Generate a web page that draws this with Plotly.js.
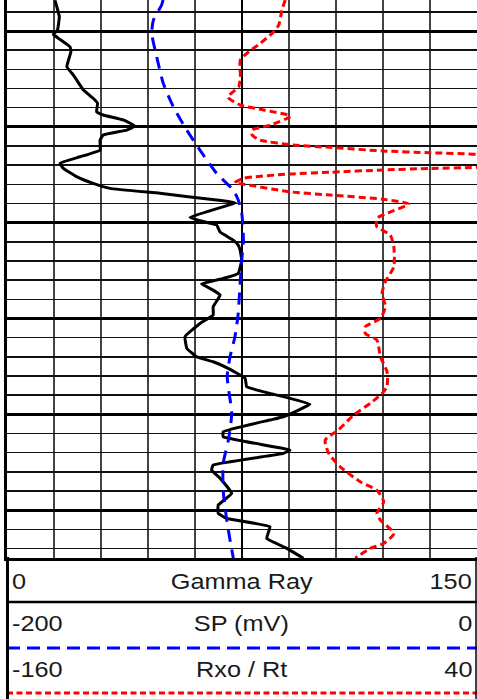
<!DOCTYPE html>
<html>
<head>
<meta charset="utf-8">
<script src="https://cdn.plot.ly/plotly-3.0.1.min.js"></script>
<style>html,body{margin:0;padding:0;background:#fff;}#chart{width:477px;height:699px;}</style>
</head>
<body>
<div id="chart"></div>
<script>
// Gamma Ray (API), depth (ft)
const grDepth = [984,987.3,992.5,999.5,1001.7,1003.8,1008.2,1010.8,1018.6,1023,1028.2,1030.8,1035.1,1037.7,1042.1,1043.8,1046.4,1049.6,1051.7,1054.3,1056.9,1062.1,1065.6,1069,1071.7,1076,1079.5,1082.1,1084.7,1088.2,1089.6,1097.2,1099,1101.2,1104.9,1109.1,1111.7,1114.3,1119.5,1126.5,1129.1,1132,1135.2,1137.8,1143.9,1148.2,1152.6,1159.5,1165.6,1170,1172.6,1176,1181.3,1185.6,1189.1,1194.7,1201.3,1203,1209.1,1211.7,1218.7,1220.4,1226.5,1229.1,1233.4,1241.3,1247.4,1251.7,1254.3,1258.7,1264.8,1270,1275.2];
const grValue = [15.3,15.9,16.7,16.1,14.8,16.4,20.1,20.4,19.1,21.2,23.3,24.4,27.5,28.9,28.6,30.7,37.1,40.9,38.2,30.7,29.7,29.7,23.3,16.9,18.0,22.2,27.5,32.9,48.8,66.9,72.8,58.4,61.6,66.9,68.0,72.2,73.8,74.4,74.9,73.8,69.0,62.1,65.8,68.0,65.8,65.8,61.6,56.8,57.4,60.5,65.8,70.6,76.0,76.5,83.9,96.7,88.2,83.9,69.0,69.0,90.3,88.2,65.8,65.3,68.0,71.7,67.4,67.4,70.1,83.9,82.9,89.3,94.6];

// SP (mV)
const spDepth = [983.8,986.4,994.3,1001.2,1013.4,1027.3,1039.5,1051.7,1062.1,1074.3,1083,1088.2,1095.1,1109.1,1119.5,1133.5,1147.3,1159.5,1170,1180.4,1199.5,1213.5,1225.6,1239.6,1255.2,1265.6,1275];
const spValue = [-133.6,-134.2,-137.7,-138.4,-136.3,-133.5,-129.2,-123.5,-117.9,-110.8,-103.7,-101.6,-100.1,-99.4,-100.1,-100.9,-101.6,-103.0,-105.1,-106.3,-104.4,-105.8,-108.0,-108.0,-106.5,-105.1,-103.7];

// Rxo / Rt
const rDepth = [983.8,989,996.9,1001.2,1006.4,1010.8,1015.1,1023.9,1029.1,1034.4,1038.6,1041.2,1044.4,1049.1,1051.7,1054.3,1056.9,1059.5,1060.7,1062.6,1063.5,1064.4,1067.8,1071.1,1071.7,1072.5,1073.7,1074.6,1076.9,1079.2,1079.9,1083.9,1085.6,1087.8,1090.3,1095.1,1097.8,1102.1,1106.5,1112.6,1123,1130.8,1136.9,1143.9,1149.9,1154.3,1157.8,1161.3,1170,1177.8,1185.6,1189.1,1194.3,1200.4,1208.2,1213.5,1220.4,1227.4,1235.2,1239.6,1245.7,1251.7,1255.2,1262.2,1267.4,1270,1275];
const rValue = [-41.6,-43.0,-44.4,-47.2,-52.2,-57.1,-60.7,-60.7,-61.4,-66.0,-60.7,-50.8,-39.4,-48.0,-55.7,-55.7,-52.3,-38.2,-22.6,0.1,20.0,39.9,62.6,39.9,20.0,0.1,-22.6,-39.6,-59.4,-63.0,-59.4,-39.6,-22.6,0.1,10.9,1.7,-2.6,-2.6,3.1,4.6,4.6,1.0,-0.4,1.0,-1.1,-7.5,-7.5,-2.6,-1.1,1.7,1.7,-0.4,-5.4,-12.5,-19.0,-24.6,-23.1,-18.2,-9.7,-2.6,0.3,-2.6,-1.1,4.6,0.3,-5.4,-11.8];

const depthRange = [1275, 983.8];
const grRange = [0, 150];
const spRange = [-200, 0];
const rRange = [-160, 40];

const scaleLabels = [
  ['0', 'Gamma Ray', '150'],
  ['-200', 'SP (mV)', '0'],
  ['-160', 'Rxo / Rt', '40']
];

// layout helpers (pixel -> paper)
const W = 477, H = 699, ML = 7, MB = 141;
const PW = W - ML, PH = H - MB;
const px = X => (X - ML) / PW;
const py = Y => (PH - Y) / PH;

const traces = [
  {x: spValue, y: spDepth, xaxis: 'x2', yaxis: 'y', mode: 'lines',
   line: {color: '#0000ff', width: 3, dash: '12px,8px', shape: 'spline', smoothing: 0.6}, hoverinfo: 'skip'},
  {x: rValue, y: rDepth, xaxis: 'x3', yaxis: 'y', mode: 'lines',
   line: {color: '#ff0000', width: 3, dash: '7px,4px', shape: 'spline', smoothing: 0.6}, hoverinfo: 'skip'},
  {x: grValue, y: grDepth, xaxis: 'x', yaxis: 'y', mode: 'lines',
   line: {color: '#000000', width: 3, shape: 'spline', smoothing: 0.3}, hoverinfo: 'skip'}
];

const font = {family: 'Liberation Sans, Arial, sans-serif', size: 22, color: '#1a1a1a'};
const rowY = [581, 624, 669];
const annotations = [];
const anchors = [];
scaleLabels.forEach((row, i) => {
  annotations.push({xref: 'paper', yref: 'paper', x: px(10), y: py(rowY[i]), text: row[0], showarrow: false, xanchor: 'left', yanchor: 'middle', font});
  annotations.push({xref: 'paper', yref: 'paper', x: px(241.5), y: py(rowY[i]), text: row[1], showarrow: false, xanchor: 'center', yanchor: 'middle', font});
  annotations.push({xref: 'paper', yref: 'paper', x: px(474), y: py(rowY[i]), text: row[2], showarrow: false, xanchor: 'right', yanchor: 'middle', font});
  anchors.push('left center', 'center center', 'right center');
});

const shapes = [
  {type: 'line', xref: 'paper', yref: 'paper', x0: px(7), x1: px(477), y0: py(602), y1: py(602), line: {color: '#000', width: 2.5}},
  {type: 'line', xref: 'paper', yref: 'paper', x0: px(7), x1: px(477), y0: py(648), y1: py(648), line: {color: '#0000ff', width: 3, dash: '13px,7px'}},
  {type: 'line', xref: 'paper', yref: 'paper', x0: px(7), x1: px(477), y0: py(693), y1: py(693), line: {color: '#ff0000', width: 3, dash: '6px,3.5px'}},
  {type: 'line', xref: 'paper', yref: 'paper', x0: px(7.5), x1: px(7.5), y0: py(557), y1: py(699), line: {color: '#000', width: 3}},
  {type: 'line', xref: 'paper', yref: 'paper', x0: px(476), x1: px(476), y0: py(557), y1: py(699), line: {color: '#000', width: 1.5}}
];

const layout = {
  width: W, height: H,
  margin: {l: ML, r: 0, t: 0, b: MB, pad: 0},
  paper_bgcolor: '#fff', plot_bgcolor: '#fff',
  showlegend: false,
  xaxis: {range: grRange, tick0: 0, dtick: 75, showgrid: true, gridcolor: '#000', gridwidth: 2.5,
          minor: {tick0: 0, dtick: 15, showgrid: true, gridcolor: '#444', gridwidth: 1.5},
          showticklabels: false, ticks: '', zeroline: false, showline: true, linecolor: '#000', linewidth: 3, mirror: false, fixedrange: true},
  xaxis2: {range: spRange, overlaying: 'x', anchor: 'y', visible: false, showgrid: false, zeroline: false},
  xaxis3: {range: rRange, overlaying: 'x', anchor: 'y', visible: false, showgrid: false, zeroline: false},
  yaxis: {range: depthRange, tick0: 1000, dtick: 50, showgrid: true, gridcolor: '#000', gridwidth: 3,
          minor: {tick0: 1000, dtick: 10, showgrid: true, gridcolor: '#111', gridwidth: 1.5},
          showticklabels: false, ticks: '', zeroline: false, showline: true, linecolor: '#000', linewidth: 3, mirror: true, fixedrange: true},
  annotations, shapes
};

Plotly.newPlot('chart', traces, layout, {displayModeBar: false, staticPlot: true}).then(gd => {
  // the reference lettering is slightly wider than the font's natural width
  gd.querySelectorAll('.annotation-text').forEach((t, i) => {
    t.style.transformBox = 'fill-box';
    t.style.transformOrigin = anchors[i] || 'center center';
    t.style.transform = 'scaleX(1.15)';
  });
});
</script>
</body>
</html>
